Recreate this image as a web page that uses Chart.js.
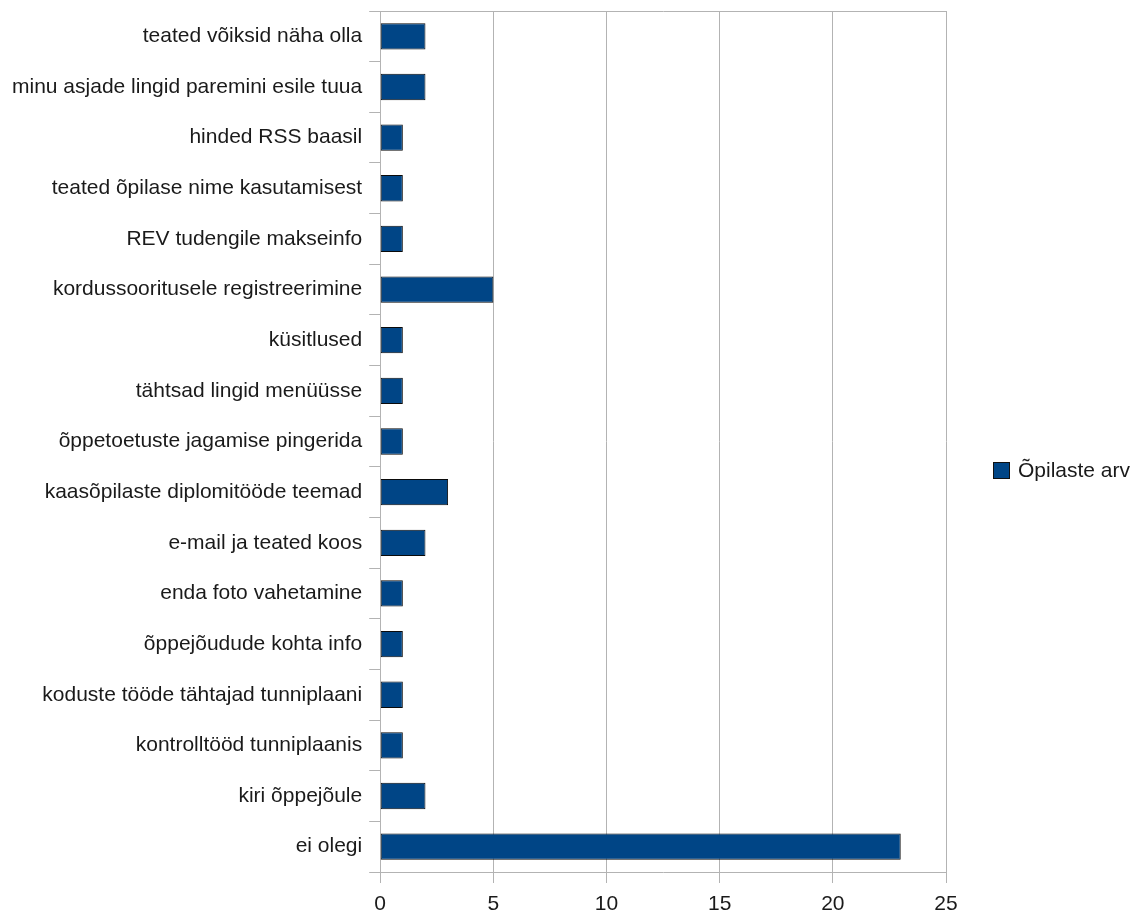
<!DOCTYPE html>
<html>
<head>
<meta charset="utf-8">
<script src="https://cdn.jsdelivr.net/npm/chart.js@4/dist/chart.umd.min.js"></script>
<style>
    html, body { margin: 0; padding: 0; background: #fff; }
    #wrap { width: 1135px; height: 915px; }
</style>
</head>
<body>
<div id="wrap"><canvas id="barChart"></canvas></div>
<script>
// categories, top to bottom
const categories = [
    'teated võiksid näha olla',
    'minu asjade lingid paremini esile tuua',
    'hinded RSS baasil',
    'teated õpilase nime kasutamisest',
    'REV tudengile makseinfo',
    'kordussooritusele registreerimine',
    'küsitlused',
    'tähtsad lingid menüüsse',
    'õppetoetuste jagamise pingerida',
    'kaasõpilaste diplomitööde teemad',
    'e-mail ja teated koos',
    'enda foto vahetamine',
    'õppejõudude kohta info',
    'koduste tööde tähtajad tunniplaani',
    'kontrolltööd tunniplaanis',
    'kiri õppejõule',
    'ei olegi'
];
const studentCounts = [2, 2, 1, 1, 1, 5, 1, 1, 1, 3, 2, 1, 1, 1, 1, 2, 23];
const seriesLabel = 'Õpilaste arv';
const axisMax = 25;
const axisStep = 5;

const FONT = { family: "'Liberation Sans', Arial, sans-serif", size: 21 };
const GRID = '#b3b3b3';
const BAR = '#004586';

// legend drawn by hand to the right of the plot
const sideLegend = {
    id: 'sideLegend',
    afterDraw(chart) {
        const ctx = chart.ctx;
        const ds = chart.data.datasets[0];
        const x = 993, y = 462, box = 17;
        ctx.save();
        ctx.fillStyle = ds.backgroundColor;
        ctx.fillRect(x, y, box, box);
        ctx.strokeStyle = '#111';
        ctx.lineWidth = 1;
        ctx.strokeRect(x + 0.5, y + 0.5, box - 1, box - 1);
        ctx.fillStyle = '#1a1a1a';
        ctx.font = FONT.size + 'px ' + FONT.family;
        ctx.textBaseline = 'middle';
        ctx.fillText(ds.label, 1018, y + box / 2 + 1);
        ctx.restore();
    }
};

new Chart(document.getElementById('barChart').getContext('2d'), {
    type: 'bar',
    data: {
        labels: categories,
        datasets: [{
            label: seriesLabel,
            data: studentCounts,
            backgroundColor: BAR,
            borderColor: '#0a0a0a',
            borderWidth: 1,
            borderSkipped: false,
            barPercentage: 0.52,
            categoryPercentage: 1
        }]
    },
    options: {
        indexAxis: 'y',
        responsive: true,
        maintainAspectRatio: false,
        animation: false,
        layout: { padding: { left: 5, top: 11, right: 189, bottom: 0 } },
        plugins: {
            legend: { display: false },
            tooltip: { enabled: false }
        },
        scales: {
            x: {
                min: 0,
                max: axisMax,
                // tick + padding + one line of labels
                afterFit: (scale) => { scale.height = 43; },
                ticks: { stepSize: axisStep, color: '#1a1a1a', font: FONT, padding: 9 },
                grid: { color: GRID, tickColor: GRID, tickLength: 11, lineWidth: 1 },
                border: { color: GRID }
            },
            y: {
                // labels sit inside their bands, no need for extra room above/below
                afterFit: (scale) => { scale.paddingTop = 0; scale.paddingBottom = 0; },
                ticks: { color: '#1a1a1a', font: FONT, padding: 7 },
                grid: {
                    offset: true,
                    tickLength: 11,
                    tickColor: GRID,
                    // only the top and bottom boundaries run across the plot
                    color: (c) => (c.index === 0 || c.index === categories.length) ? GRID : 'rgba(0,0,0,0)'
                },
                border: { color: GRID }
            }
        }
    },
    plugins: [sideLegend]
});
</script>
</body>
</html>
